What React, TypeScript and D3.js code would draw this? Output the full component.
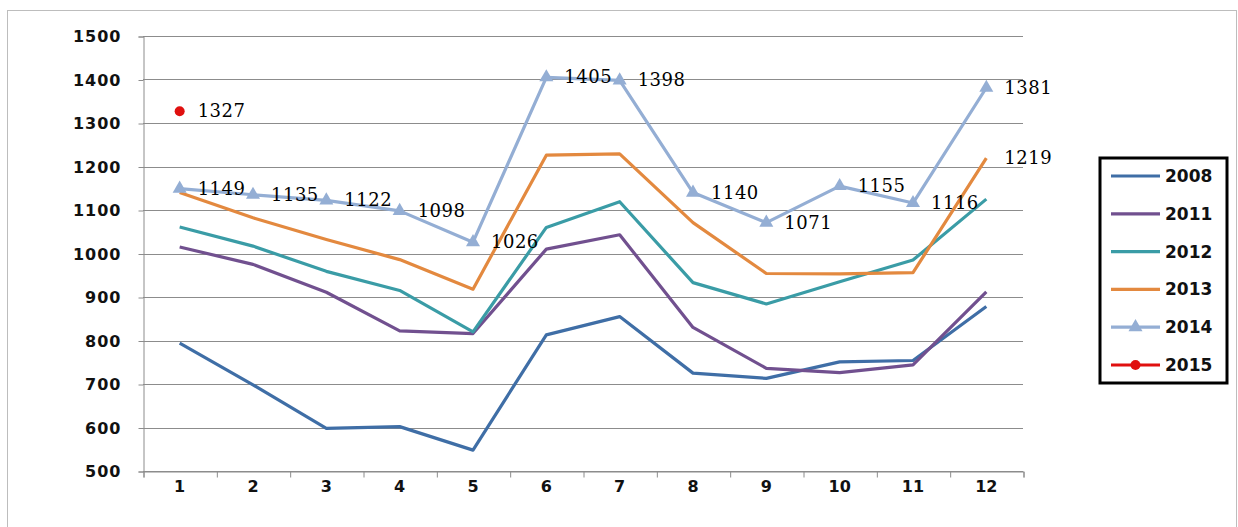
import React from "react";
import { select, scaleLinear, axisLeft, axisBottom, line, range, symbol, symbolTriangle } from "d3";

const months = [1, 2, 3, 4, 5, 6, 7, 8, 9, 10, 11, 12];
const yTicks = [500, 600, 700, 800, 900, 1000, 1100, 1200, 1300, 1400, 1500];
const years = ["2008", "2011", "2012", "2013", "2014", "2015"];
const s2008 = [794, 698, 598, 602, 548, 813, 855, 725, 713, 751, 754, 878];
const s2011 = [1015, 975, 911, 822, 816, 1010, 1043, 830, 736, 726, 744, 912];
const s2012 = [1061, 1017, 959, 915, 820, 1060, 1119, 933, 884, 935, 985, 1125];
const s2013 = [1140, 1082, 1032, 986, 918, 1226, 1229, 1071, 954, 953, 956, 1219];
const s2014 = [1149, 1135, 1122, 1098, 1026, 1405, 1398, 1140, 1071, 1155, 1116, 1381];
const s2015 = [1327];

const colors = ["#3F6EA6", "#71508F", "#3A9CA6", "#E3893F", "#94AED4", "#E0100F"];

export default function App() {
  const svgRef = React.useRef<SVGSVGElement>(null);

  React.useLayoutEffect(() => {
    const svg = select(svgRef.current);
    svg.selectAll("*").remove();

    const margin = { left: 143, right: 1023, top: 36, bottom: 471 };
    const x = scaleLinear().domain([0.5, 12.5]).range([margin.left, margin.right]);
    const y = scaleLinear().domain([500, 1500]).range([margin.bottom, margin.top]);

    // chart frame
    svg
      .append("rect")
      .attr("x", 7.5)
      .attr("y", 10.5)
      .attr("width", 1229)
      .attr("height", 530)
      .attr("fill", "#fff")
      .attr("stroke", "#bdbdbd");

    // gridlines
    svg
      .append("g")
      .selectAll("line")
      .data(yTicks)
      .join("line")
      .attr("x1", margin.left)
      .attr("x2", margin.right)
      .attr("y1", (d) => Math.round(y(d)) + 0.5)
      .attr("y2", (d) => Math.round(y(d)) + 0.5)
      .attr("stroke", "#8c8c8c")
      .attr("stroke-width", 1);

    const gy = svg
      .append("g")
      .attr("transform", `translate(${margin.left + 0.5},0.5)`)
      .call(axisLeft(y).tickValues(yTicks).tickSize(5).tickPadding(17).tickFormat((d) => `${d}`));
    gy.selectAll("line, path").attr("stroke", "#8c8c8c");
    gy.selectAll("text")
      .attr("fill", "#111")
      .style("font", "bold 16px 'DejaVu Sans'")
      .style("letter-spacing", "1px");

    const gx = svg
      .append("g")
      .attr("transform", `translate(0.5,${Math.round(y(500)) + 0.5})`)
      .call(axisBottom(x).tickValues(range(0.5, 13, 1)).tickSize(6).tickSizeOuter(6).tickFormat(() => ""));
    gx.selectAll("line, path").attr("stroke", "#8c8c8c");

    svg
      .append("g")
      .selectAll("text")
      .data(months)
      .join("text")
      .attr("x", (d) => x(d))
      .attr("y", 492)
      .attr("text-anchor", "middle")
      .attr("fill", "#111")
      .style("font", "bold 16px 'DejaVu Sans'")
      .text((d) => d);

    const series = [s2008, s2011, s2012, s2013, s2014, s2015];
    const path = line<number>()
      .x((_, i) => x(months[i]))
      .y((d) => y(d));

    series.forEach((s, k) => {
      if (s.length > 1) {
        svg
          .append("path")
          .datum(s)
          .attr("d", path)
          .attr("fill", "none")
          .attr("stroke", colors[k])
          .attr("stroke-width", 3.2)
          .attr("stroke-linejoin", "round");
      }
    });

    // 2014 markers
    svg
      .append("g")
      .selectAll("path")
      .data(s2014)
      .join("path")
      .attr("d", symbol().type(symbolTriangle).size(85))
      .attr("transform", (d, i) => `translate(${x(months[i])},${y(d)})`)
      .attr("fill", colors[4]);

    // 2015 dot
    svg
      .append("g")
      .selectAll("circle")
      .data(s2015)
      .join("circle")
      .attr("cx", (_, i) => x(months[i]))
      .attr("cy", (d) => y(d))
      .attr("r", 5)
      .attr("fill", colors[5]);

    const labels = [
      ...s2014.map((v, i) => ({ m: months[i], v })),
      { m: months[11], v: s2013[11] },
      ...s2015.map((v, i) => ({ m: months[i], v })),
    ];
    svg
      .append("g")
      .selectAll("text")
      .data(labels)
      .join("text")
      .attr("x", (d) => x(d.m) + 18)
      .attr("y", (d) => y(d.v) + 6)
      .attr("fill", "#000")
      .style("font", "18px 'DejaVu Serif'")
      .style("letter-spacing", "0.5px")
      .text((d) => d.v);

    // legend
    const lg = svg.append("g");
    lg.append("rect")
      .attr("x", 1100)
      .attr("y", 158)
      .attr("width", 127)
      .attr("height", 225)
      .attr("fill", "#fff")
      .attr("stroke", "#000")
      .attr("stroke-width", 3);
    const items = lg
      .selectAll("g")
      .data(years)
      .join("g")
      .attr("transform", (_, i) => `translate(0,${176 + i * 37.8})`);
    items
      .append("line")
      .attr("x1", 1111)
      .attr("x2", 1160)
      .attr("stroke", (_, i) => colors[i])
      .attr("stroke-width", 3.2);
    items
      .filter((_, i) => i === 4)
      .append("path")
      .attr("d", symbol().type(symbolTriangle).size(85))
      .attr("transform", "translate(1135.5,0)")
      .attr("fill", colors[4]);
    items
      .filter((_, i) => i === 5)
      .append("circle")
      .attr("cx", 1135.5)
      .attr("r", 5)
      .attr("fill", colors[5]);
    items
      .append("text")
      .attr("x", 1165)
      .attr("y", 6)
      .attr("fill", "#111")
      .style("font", "bold 17px 'DejaVu Sans'")
      .text((d) => d);

    return () => {
      svg.selectAll("*").remove();
    };
  }, []);

  return (
    <div style={{ position: "absolute", left: 0, top: 0 }}>
      <svg ref={svgRef} width={1238} height={527} style={{ display: "block" }} />
    </div>
  );
}
